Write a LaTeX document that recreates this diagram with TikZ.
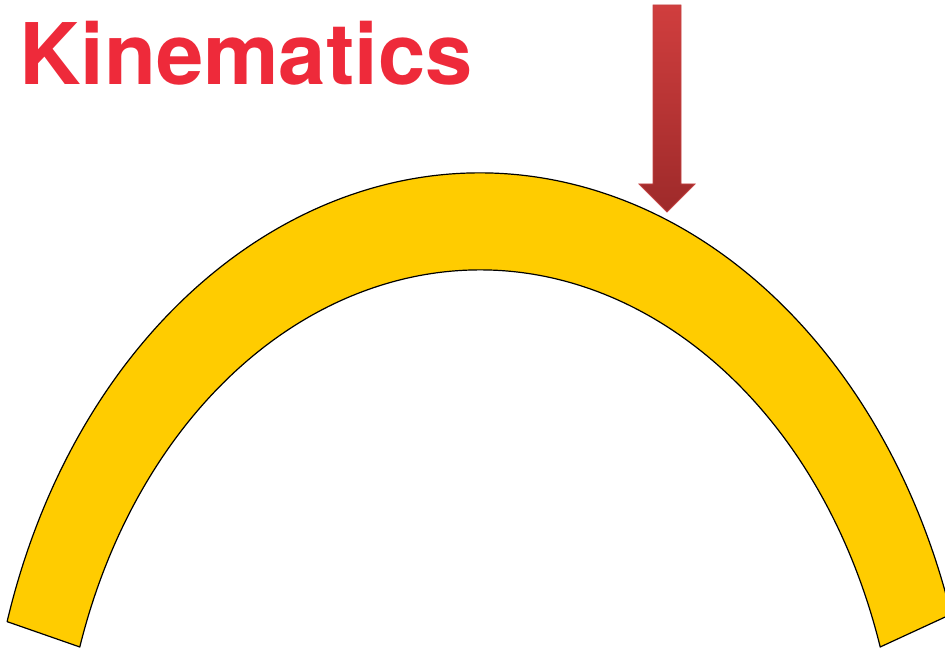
\documentclass[tikz,border=0pt]{standalone}
\usepackage{fontspec}
\setmainfont{TeX Gyre Heros}
\usetikzlibrary{calc}
\begin{document}
\begin{tikzpicture}[x=1pt,y=1pt,
  titletext/.style={font=\fontsize{85}{90}\selectfont\bfseries, text=titlered, inner sep=0pt, anchor=base west},
  archband/.style={fill=archyellow, draw=black, line width=1.2pt, line join=round},
  redarrow/.style={top color=arrowtop, bottom color=arrowbot, draw=arrowedge, line width=0.8pt}]
\definecolor{titlered}{RGB}{238,42,58}
\definecolor{archyellow}{RGB}{255,204,0}
\definecolor{arrowtop}{RGB}{208,62,62}
\definecolor{arrowbot}{RGB}{158,42,42}
\definecolor{arrowedge}{RGB}{196,66,66}
\useasboundingbox (0,0) rectangle (945,651);
% title
\node[titletext] (title) at (19,566) {Kinematics};
% arch
\coordinate (oc) at (480,-153);
\coordinate (ic) at (480,-160);
\path[archband] ($(oc)+(163.2:494pt and 631pt)$) coordinate (ol)
  arc[start angle=163.2, end angle=17.5, x radius=494pt, y radius=631pt] coordinate (or)
  -- ($(ic)+(17.65:420pt and 541pt)$) coordinate (ir)
  arc[start angle=17.65, end angle=162.35, x radius=420pt, y radius=541pt] coordinate (il)
  -- cycle;
% arrow
\coordinate (a1) at (653,646);
\coordinate (a2) at (681,646);
\coordinate (a3) at (681,467);
\coordinate (a4) at (695,467);
\coordinate (tip) at (667,439);
\coordinate (a6) at (639,467);
\coordinate (a7) at (653,467);
\path[redarrow] (a1) -- (a2) -- (a3) -- (a4) -- (tip) -- (a6) -- (a7) -- cycle;
\end{tikzpicture}
\end{document}
